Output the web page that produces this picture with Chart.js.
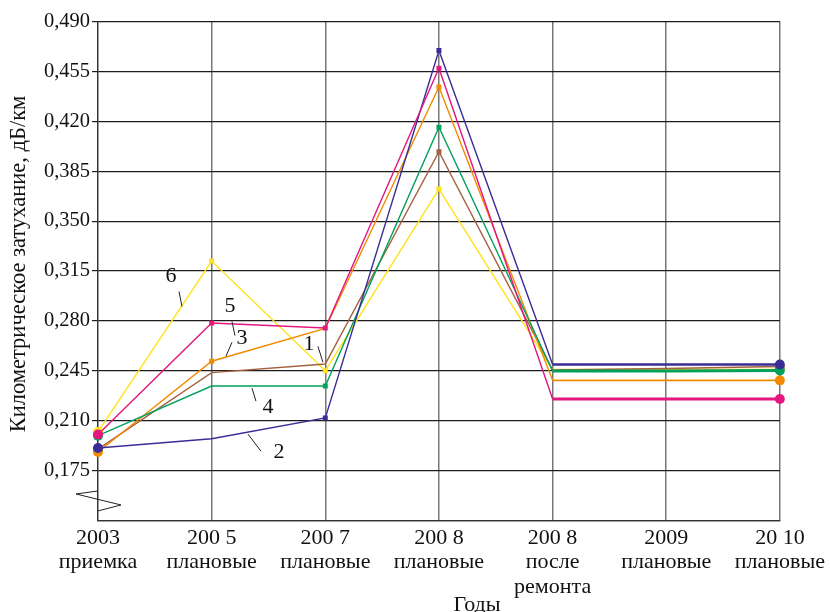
<!DOCTYPE html>
<html>
<head>
<meta charset="utf-8">
<script src="https://cdn.jsdelivr.net/npm/chart.js@4.4.1/dist/chart.umd.min.js"></script>
<style>
  html, body { margin: 0; padding: 0; background: #fff; }
  #c { display: block; }
</style>
</head>
<body>
<canvas id="c" width="830" height="612"></canvas>
<script>
// Categories: year of measurement and kind of measurement
const years  = ['2003', '200 5', '200 7', '200 8', '200 8', '2009', '20 10'];
const stages = [['приемка'], ['плановые'], ['плановые'], ['плановые'], ['после', 'ремонта'], ['плановые'], ['плановые']];

// Kilometric attenuation, dB/km, per fibre
const fibre1 = [0.1901, 0.2437, 0.2498, 0.3987, 0.2456, 0.2466, 0.2480];
const fibre2 = [0.1909, 0.1973, 0.2119, 0.4697, 0.2494, 0.2494, 0.2494];
const fibre3 = [0.1880, 0.2517, 0.2747, 0.4441, 0.2383, 0.2383, 0.2383];
const fibre4 = [0.1995, 0.2343, 0.2343, 0.4158, 0.2449, 0.2449, 0.2452];
const fibre5 = [0.2003, 0.2785, 0.2750, 0.4572, 0.2252, 0.2252, 0.2252];
const fibre6 = [0.2021, 0.3220, 0.2451, 0.3725, 0.2459, 0.2459, 0.2459];

// Y axis tick values
const yTickValues = [0.175, 0.210, 0.245, 0.280, 0.315, 0.350, 0.385, 0.420, 0.455, 0.490];

const SERIF = "'Liberation Serif', 'Times New Roman', serif";

function series(data, color, marks, width, flatWidth) {
  return {
    data: data,
    borderColor: color,
    backgroundColor: color,
    borderWidth: width,
    tension: 0,
    pointRadius: marks,
    pointHoverRadius: marks,
    pointBorderWidth: 0,
    pointStyle: ctx => (ctx.dataIndex === 0 || ctx.dataIndex === data.length - 1) ? 'circle' : 'rect',
    segment: { borderWidth: ctx => ctx.p0DataIndex >= 4 ? flatWidth : width }
  };
}

// Numbered callouts for the fibres (category index, value)
const callouts = [
  { text: '6', at: [0.642, 0.3112], from: [0.713, 0.3006], to: [0.739, 0.2901] },
  { text: '5', at: [1.161, 0.2900], from: [1.179, 0.2796], to: [1.205, 0.2697] },
  { text: '3', at: [1.267, 0.2678], from: [1.179, 0.2650], to: [1.126, 0.2552] },
  { text: '1', at: [1.856, 0.2636], from: [1.935, 0.2622], to: [1.979, 0.2510] },
  { text: '4', at: [1.496, 0.2195], from: [1.355, 0.2328], to: [1.390, 0.2237] },
  { text: '2', at: [1.592, 0.1880], from: [1.320, 0.2006], to: [1.434, 0.1886] }
];

const decorations = {
  id: 'decorations',
  afterDraw(chart) {
    const ctx = chart.ctx;
    const xs = chart.scales.x, ys = chart.scales.y;
    const area = chart.chartArea;
    ctx.save();

    // axis break mark on the value axis
    ctx.strokeStyle = '#222';
    ctx.lineWidth = 1;
    ctx.beginPath();
    ctx.moveTo(area.left, ys.getPixelForValue(0.1607));
    ctx.lineTo(area.left - 22, ys.getPixelForValue(0.1586));
    ctx.lineTo(area.left + 23, ys.getPixelForValue(0.1509));
    ctx.lineTo(area.left, ys.getPixelForValue(0.1467));
    ctx.stroke();

    // callouts
    ctx.fillStyle = '#111';
    ctx.font = '22px ' + SERIF;
    ctx.textAlign = 'center';
    ctx.textBaseline = 'middle';
    callouts.forEach(c => {
      ctx.beginPath();
      ctx.moveTo(xs.getPixelForValue(c.from[0]), ys.getPixelForValue(c.from[1]));
      ctx.lineTo(xs.getPixelForValue(c.to[0]), ys.getPixelForValue(c.to[1]));
      ctx.stroke();
      ctx.fillText(c.text, xs.getPixelForValue(c.at[0]), ys.getPixelForValue(c.at[1]));
    });

    // axis titles
    ctx.font = '22.5px ' + SERIF;
    ctx.save();
    ctx.translate(19, 264);
    ctx.rotate(-Math.PI / 2);
    ctx.fillText('Километрическое затухание, дБ/км', 0, 0);
    ctx.restore();

    ctx.font = '22px ' + SERIF;
    ctx.textBaseline = 'alphabetic';
    ctx.fillText('Годы', 477, 611);
    ctx.restore();
  }
};

new Chart(document.getElementById('c'), {
  type: 'line',
  data: {
    labels: years.map((y, i) => [y].concat(stages[i])),
    datasets: [
      series(fibre5, '#e3177f', [5, 3.5, 3.5, 3.5, 0, 0, 5], 1.4, 3),
      series(fibre2, '#3a2d95', [5, 0, 3.5, 3.5, 0, 0, 5], 1.4, 2.6),
      series(fibre4, '#00a15c', [5, 0, 3.5, 3.5, 0, 0, 5], 1.4, 3),
      series(fibre3, '#f28a00', [5, 3.5, 0, 3.5, 0, 0, 5], 1.4, 1.6),
      series(fibre1, '#a5603f', [5, 0, 0, 3.5, 0, 0, 5], 1.4, 1.6),
      series(fibre6, '#ffe21a', [5, 3.5, 3.5, 3.5, 0, 0, 5], 1.4, 1.6)
    ]
  },
  options: {
    responsive: false,
    animation: false,
    devicePixelRatio: 1,
    layout: { padding: { top: 21.5, right: 50, left: 0, bottom: 0 } },
    plugins: { legend: { display: false }, tooltip: { enabled: false } },
    scales: {
      x: {
        type: 'category',
        offset: false,
        grid: { color: '#777', lineWidth: 1.5, drawTicks: false },
        border: { color: '#333', width: 1.2 },
        ticks: {
          color: '#111',
          padding: 5,
          maxRotation: 0,
          autoSkip: false,
          font: { family: SERIF, size: 22, lineHeight: 1.12 }
        },
        afterFit(scale) { scale.height = 91.5; }
      },
      y: {
        min: 0.14,
        max: 0.49,
        afterBuildTicks(scale) {
          scale.ticks = [{ value: 0.14 }].concat(yTickValues.map(v => ({ value: v })));
        },
        grid: {
          color: '#1c1c1c',
          lineWidth: 1.2,
          tickLength: 6,
          tickColor: ctx => (ctx.tick && ctx.tick.value < 0.15) ? 'rgba(0,0,0,0)' : '#1c1c1c'
        },
        border: { color: '#333', width: 1.2 },
        ticks: {
          color: '#111',
          padding: 2,
          font: { family: SERIF, size: 20.5 },
          callback: v => v < 0.15 ? '' : v.toFixed(3).replace('.', ',')
        },
        afterFit(scale) { scale.width = 98; }
      }
    }
  },
  plugins: [decorations]
});
</script>
</body>
</html>
